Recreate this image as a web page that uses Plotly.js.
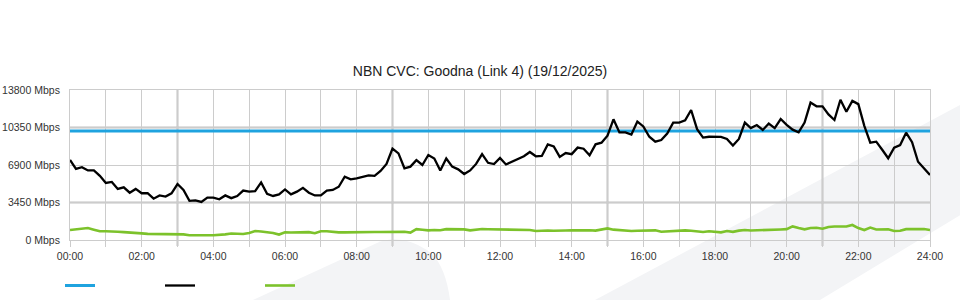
<!DOCTYPE html>
<html>
<head>
<meta charset="utf-8">
<script src="https://cdn.plot.ly/plotly-3.0.1.min.js"></script>
<style>
  html, body { margin: 0; padding: 0; background: #ffffff; }
  #chart { width: 960px; height: 300px; }
</style>
</head>
<body>
<div id="chart"></div>
<script>
// ---- Data (values in Mbps, one sample every 10 minutes from 00:00 to 24:00) ----
const chartTitle = "NBN CVC: Goodna (Link 4) (19/12/2025)";
const sampleStepMinutes = 10;

const capacityMbps = 10030; // blue horizontal line

const trafficBlack = [
  7360, 6550, 6700, 6400, 6400, 5900, 5250, 5340, 4700, 4850, 4350, 4700,
  4300, 4300, 3800, 4100, 4000, 4300, 5150, 4600, 3600, 3650, 3500, 3900,
  3900, 3750, 4100, 3850, 4050, 4550, 4450, 4500, 5300, 4250, 4050, 4200,
  4650, 4200, 4450, 4800, 4350, 4100, 4100, 4540, 4600, 4900, 5830, 5580,
  5680, 5850, 5950, 5900, 6350, 7000, 8400, 7970, 6600, 6750, 7350, 6900,
  7820, 7500, 6400, 7500, 6750, 6500, 6070, 6400, 7000, 7900, 7100, 6990,
  7550, 6950, 7200, 7500, 7700, 8100, 7700, 7730, 8800, 8600, 7650, 8000,
  7900, 8500, 8400, 7800, 8800, 8950, 9600, 11100, 9900, 9900, 9700, 10900,
  10450, 9500, 9050, 9200, 9800, 10800, 10800, 11000, 11960, 10200, 9420, 9500,
  9500, 9480, 9300, 8700, 9300, 10800, 10300, 10580, 10120, 10720, 10300, 11130,
  10600, 10150, 9900, 10800, 12640, 12300, 12300, 11550, 11040, 12900, 11800, 12800,
  12500, 10500, 8960, 9050, 8300, 7520, 8500, 8740, 9870, 9000, 7200, 6600,
  5980
];

const trafficGreen = [
  920, 980, 1050, 1100, 950, 800, 800, 800, 760, 720, 700, 650,
  610, 560, 560, 560, 570, 580, 580, 520, 440, 420, 400, 440,
  440, 460, 520, 600, 580, 550, 650, 830, 780, 720, 650, 500,
  700, 690, 680, 680, 720, 620, 800, 800, 730, 700, 700, 720,
  740, 740, 740, 740, 740, 740, 750, 780, 760, 680, 1000, 950,
  890, 920, 900, 1000, 1000, 990, 980, 890, 950, 1010, 990, 980,
  980, 980, 980, 980, 970, 920, 830, 880, 880, 850, 840, 870,
  890, 900, 920, 900, 860, 950, 1070, 950, 900, 850, 830, 850,
  860, 880, 890, 760, 800, 860, 880, 890, 850, 800, 740, 800,
  780, 700, 830, 750, 860, 920, 870, 880, 890, 920, 950, 970,
  1000, 1250, 1100, 980, 1100, 1120, 1040, 1200, 1240, 1260, 1240, 1380,
  1100, 920, 1140, 960, 950, 980, 830, 850, 1000, 1010, 1010, 1010,
  920
];

const yTickValues = [0, 3450, 6900, 10350, 13800];
const yTickLabels = ["0 Mbps", "3450 Mbps", "6900 Mbps", "10350 Mbps", "13800 Mbps"];
const xTickValues = [0, 2, 4, 6, 8, 10, 12, 14, 16, 18, 20, 22, 24];
const xTickLabels = ["00:00", "02:00", "04:00", "06:00", "08:00", "10:00", "12:00",
                     "14:00", "16:00", "18:00", "20:00", "22:00", "24:00"];
const strongGridX = [3, 9, 15, 21];
const strongGridY = [3450, 10350];

// ---- Build ----
const hoursBlack = trafficBlack.map((_, i) => i * sampleStepMinutes / 60);
const hoursGreen = trafficGreen.map((_, i) => i * sampleStepMinutes / 60);

const FONT = "Liberation Sans, Arial, Helvetica, sans-serif";
const GRID = "#cccccc";

const traces = [
  {
    x: [0, 24], y: [capacityMbps, capacityMbps],
    type: "scatter", mode: "lines", name: " ",
    line: { color: "#1fa3df", width: 3 },
    hoverinfo: "skip"
  },
  {
    x: hoursBlack, y: trafficBlack,
    type: "scatter", mode: "lines", name: " ",
    line: { color: "#000000", width: 2.3 },
    hoverinfo: "skip"
  },
  {
    x: hoursGreen, y: trafficGreen,
    type: "scatter", mode: "lines", name: " ",
    line: { color: "#7cc22b", width: 2.6 },
    hoverinfo: "skip"
  }
];

function px2paperX(px) { return (px - 70) / 860; }
function px2paperY(py) { return (240 - py) / 150; }
function pathFromPixels(cmds) {
  return cmds.map(c => {
    if (c[0] === "Z") return "Z";
    const parts = [];
    for (let i = 1; i < c.length; i += 2) {
      parts.push(px2paperX(c[i]).toFixed(4) + "," + px2paperY(c[i + 1]).toFixed(4));
    }
    return c[0] + parts.join(" ");
  }).join(" ");
}

const shapes = [
  // background swooshes
  {
    type: "path", xref: "paper", yref: "paper", layer: "below",
    path: pathFromPixels([["M", 253, 300], ["L", 377, 243], ["Q", 400, 233, 427, 250], ["Q", 445, 262, 450, 300], ["Z"]]),
    fillcolor: "#f3f4f6", line: { width: 0 }
  },
  {
    type: "path", xref: "paper", yref: "paper", layer: "below",
    path: pathFromPixels([["M", 595, 300], ["L", 962, 104], ["L", 962, 214], ["L", 820, 300], ["Z"]]),
    fillcolor: "#f3f4f6", line: { width: 0 }
  }
];
strongGridX.forEach(h => shapes.push({
  type: "line", xref: "x", yref: "paper", layer: "below",
  x0: h, x1: h, y0: -0.04, y1: 1,
  line: { color: "#c2c2c2", width: 2 }
}));
strongGridY.forEach(v => shapes.push({
  type: "line", xref: "paper", yref: "y", layer: "below",
  x0: 0, x1: 1, y0: v, y1: v,
  line: { color: "#c2c2c2", width: 2 }
}));

const layout = {
  width: 960, height: 300,
  margin: { l: 70, r: 30, t: 90, b: 60, pad: 0, autoexpand: false },
  paper_bgcolor: "#ffffff",
  plot_bgcolor: "rgba(0,0,0,0)",
  font: { family: FONT, size: 10.5, color: "#333333" },
  title: {
    text: chartTitle,
    font: { family: FONT, size: 14, color: "#222222" },
    x: 0.5, xanchor: "center", xref: "container",
    y: 1 - 71 / 300, yanchor: "middle", yref: "container"
  },
  showlegend: true,
  legend: {
    orientation: "h",
    x: px2paperX(60), xanchor: "left",
    y: px2paperY(271), yanchor: "top",
    entrywidth: 55, entrywidthmode: "pixels",
    bgcolor: "rgba(0,0,0,0)",
    font: { family: FONT, size: 11, color: "#333" },
    itemwidth: 30
  },
  xaxis: {
    range: [0, 24],
    tickmode: "array", tickvals: xTickValues, ticktext: xTickLabels,
    showgrid: true, gridcolor: GRID, gridwidth: 1,
    ticks: "outside", ticklen: 6, tickcolor: GRID, tickwidth: 1,
    minor: { dtick: 1, tick0: 0, showgrid: true, gridcolor: GRID, gridwidth: 1, ticks: "outside", ticklen: 6, tickcolor: GRID },
    showline: true, mirror: true, linecolor: GRID, linewidth: 1,
    zeroline: false,
    tickfont: { family: FONT, size: 10.5, color: "#333" },
    fixedrange: true
  },
  yaxis: {
    range: [0, 13800],
    tickmode: "array", tickvals: yTickValues, ticktext: yTickLabels,
    showgrid: true, gridcolor: GRID, gridwidth: 1,
    ticks: "", ticklabelstandoff: 7,
    showline: true, mirror: true, linecolor: GRID, linewidth: 1,
    zeroline: false,
    tickfont: { family: FONT, size: 10.5, color: "#333" },
    fixedrange: true
  },
  shapes: shapes
};

Plotly.newPlot("chart", traces, layout, { staticPlot: true, displayModeBar: false });
</script>
</body>
</html>
